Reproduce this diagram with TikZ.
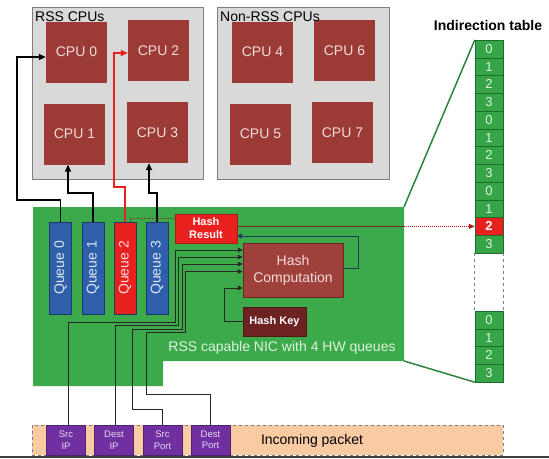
\documentclass[tikz,border=0pt]{standalone}
\usepackage{fontspec}
\setmainfont{Liberation Sans}
\usepackage{graphicx}
\usetikzlibrary{arrows.meta, calc}
\definecolor{cpured}{HTML}{9C3A36}
\definecolor{cputext}{HTML}{F2DCDB}
\definecolor{groupgray}{HTML}{D9D9D9}
\definecolor{groupedge}{HTML}{7F7F7F}
\definecolor{nicgreen}{HTML}{3CA94B}
\definecolor{cellgreen}{HTML}{35A548}
\definecolor{celledge}{HTML}{1E6B2E}
\definecolor{celltext}{HTML}{DDF2DD}
\definecolor{qblue}{HTML}{2F5FAA}
\definecolor{qedge}{HTML}{1F3A66}
\definecolor{qtext}{HTML}{DCE6F2}
\definecolor{hot}{HTML}{E8201E}
\definecolor{hashbrown}{HTML}{A0403A}
\definecolor{keybrown}{HTML}{6E2222}
\definecolor{peach}{HTML}{F9CBA3}
\definecolor{fieldpurple}{HTML}{7030A0}
\definecolor{fieldtext}{HTML}{E6D8F2}
\definecolor{fbblue}{HTML}{1F3A5F}
\definecolor{resline}{HTML}{7A2A20}
\newcommand{\groesse}[1]{\fontsize{#1}{1.2\dimexpr#1pt\relax}\selectfont}
\tikzset{
  group/.style={draw=groupedge, fill=groupgray, line width=1pt},
  grouptitle/.style={anchor=base west, inner sep=0pt, font=\groesse{14}},
  cpu/.style={fill=cpured, text=cputext, minimum width=61pt, minimum height=61pt, inner sep=0pt, font=\groesse{14}},
  cell/.style={draw=celledge, fill=cellgreen, text=celltext, minimum width=28pt, minimum height=17.75pt, inner sep=0pt, font=\groesse{13}},
  hotcell/.style={cell, fill=hot, text=white, font=\groesse{13}\bfseries},
  queue/.style={draw=qedge, fill=qblue, text=qtext, minimum width=22pt, minimum height=92pt, inner sep=0pt, font=\groesse{14}},
  hotqueue/.style={queue, fill=hot, text=cputext},
  hashres/.style={draw=hot!75!black, fill=hot, text=white, align=center, minimum width=62pt, minimum height=29pt, inner sep=0pt, font=\fontsize{11}{13}\selectfont\bfseries},
  hashcomp/.style={draw=keybrown, fill=hashbrown, text=cputext, align=center, minimum width=100pt, minimum height=54pt, inner sep=0pt, font=\fontsize{14}{17}\selectfont},
  hashkey/.style={draw=keybrown!70!black, fill=keybrown, text=white, minimum width=63pt, minimum height=29pt, inner sep=0pt, font=\fontsize{11}{13}\selectfont\bfseries},
  field/.style={draw=fieldpurple!70!black, fill=fieldpurple, text=fieldtext, align=center, minimum width=39pt, minimum height=30pt, inner sep=0pt, font=\fontsize{9.5}{11.5}\selectfont},
  packet/.style={draw=groupedge, dashed, line width=1pt, fill=peach, minimum width=471pt, minimum height=30pt, inner sep=0pt},
  qarrow/.style={-{Triangle[length=7pt,width=6pt]}, line width=1.6pt},
  fieldarrow/.style={-{Triangle[length=5pt,width=4.5pt]}, line width=0.9pt, black!85},
  fbarrow/.style={-{Triangle[length=5pt,width=5pt]}, line width=1pt, fbblue},
  resdot/.style={densely dotted, line width=1pt, resline},
}

\begin{document}
\begin{tikzpicture}[x=1pt, y=-1pt]
  \useasboundingbox (0,0) rectangle (549,458);

  % CPU groups
  \draw[group] (32,7) rectangle (203,179);
  \draw[group] (217,7) rectangle (389,179);
  \node[grouptitle] (rsstitle) at (35,21) {RSS CPUs};
  \node[cpu] (cpu0) at (76.5,52) {CPU 0};
  \node[cpu] (cpu2) at (158.5,50.5) {CPU 2};
  \node[cpu] (cpu1) at (74.5,134) {CPU 1};
  \node[cpu] (cpu3) at (157.5,132.5) {CPU 3};
  \node[cpu] (cpu4) at (262.5,52) {CPU 4};
  \node[cpu] (cpu6) at (344.5,50.5) {CPU 6};
  \node[cpu] (cpu5) at (260.5,134) {CPU 5};
  \node[cpu] (cpu7) at (342.5,132.5) {CPU 7};
  \node[grouptitle] (nonrsstitle) at (220,21) {Non-RSS CPUs};

  % NIC
  \fill[nicgreen] (33,207) -- (404,207) -- (404,361) -- (163,361) -- (163,386) -- (33,386) -- cycle;
  \coordinate (nicne) at (404,207);
  \coordinate (nicse) at (404,361);
  \node[text=celltext, font=\groesse{14}] (niclabel) at (282,348) {RSS capable NIC with 4 HW queues};

  % indirection table
  \node[anchor=base, font=\groesse{14}\bfseries] (tabletitle) at (488,30) {Indirection table};
  \foreach \v/\s [count=\i from 0] in {0/cell,1/cell,2/cell,3/cell,0/cell,1/cell,2/cell,3/cell,0/cell,1/cell,2/hotcell,3/cell}
    \node[\s] (t\i) at (489,{48.875+17.75*\i}) {\v};
  \foreach \v [count=\i from 0] in {0,1,2,3}
    \node[cell] (b\i) at (489,{319.875+17.75*\i}) {\v};
  \draw[groupedge, dashed, line width=1pt] (t11.south west) -- (b0.north west);
  \draw[groupedge, dashed, line width=1pt] (t11.south east) -- (b0.north east);
  \draw[cellgreen!80!black, line width=1.5pt] (t0.north west) -- (nicne);
  \draw[cellgreen!80!black, line width=1.5pt] (nicse) -- (b3.south west);

  % queues
  \node[queue] (q0) at (60.5,268) {\rotatebox{90}{Queue 0}};
  \node[queue] (q1) at (93,268) {\rotatebox{90}{Queue 1}};
  \node[hotqueue] (q2) at (125,268) {\rotatebox{90}{Queue 2}};
  \node[queue] (q3) at (157,268) {\rotatebox{90}{Queue 3}};

  % hashing
  \node[hashres] (hres) at (206,228.5) {Hash\\Result};
  \node[hashcomp] (hcomp) at (293,270) {Hash\\Computation};
  \node[hashkey] (hkey) at (274.5,321.5) {Hash Key};

  % incoming packet
  \node[packet] (pkt) at (267.5,440) {};
  \node[field] (srcip) at (66,440) {Src\\IP};
  \node[field] (dstip) at (114,440) {Dest\\IP};
  \node[field] (srcport) at (162.5,440) {Src\\Port};
  \node[field] (dstport) at (210.5,440) {Dest\\Port};
  \node[font=\groesse{14}] (pktlabel) at (312,441) {Incoming packet};
  \draw[black!75, line width=2pt] (0,457) -- (549,457);

  % queue -> cpu
  \draw[qarrow] (q0.north) |- (17,200) |- ([yshift=-5pt]cpu0.west);
  \draw[qarrow] (q1.north) |- (68,193) -- ([xshift=-6.5pt]cpu1.south);
  \draw[qarrow, hot, line width=1.3pt] (q2.north) |- (114,187) |- ([yshift=-2.5pt]cpu2.west);
  \draw[qarrow] (q3.north) |- (149,193) -- ([xshift=-8.5pt]cpu3.south);

  % packet fields -> hash computation
  \draw[fieldarrow] ([xshift=2pt]srcip.north) |- (175,322) |- ([yshift=20pt]hcomp.west);
  \draw[fieldarrow] ([xshift=1pt]dstip.north) |- (178.5,325.5) |- ([yshift=13pt]hcomp.west);
  \draw[fieldarrow] (srcport.north) |- (132,409) |- (182,329) |- ([yshift=6pt]hcomp.west);
  \draw[fieldarrow] (dstport.north) |- (146,394) |- (185.5,332.5) |- ([yshift=-1.5pt]hcomp.west);

  % key, result, lookup
  \draw[fieldarrow, line width=1pt] (hkey.west) -- ++(-18,0) |- ([yshift=-18pt]hcomp.west);
  \draw[fbarrow] ([yshift=2pt]hcomp.east) -- ++(15,0) |- ([yshift=-7.5pt]hres.east);
  \draw[resdot] ([yshift=10.5pt]hres.west) -| ([xshift=5pt]q2.north);
  \draw[resline, line width=1pt] (hres.east |- t10.west) -- (nicne |- t10.west);
  \draw[resdot, hot!80!black, -{Triangle[length=6pt,width=5pt]}] (nicne |- t10.west) -- (t10.west);
\end{tikzpicture}
\end{document}
